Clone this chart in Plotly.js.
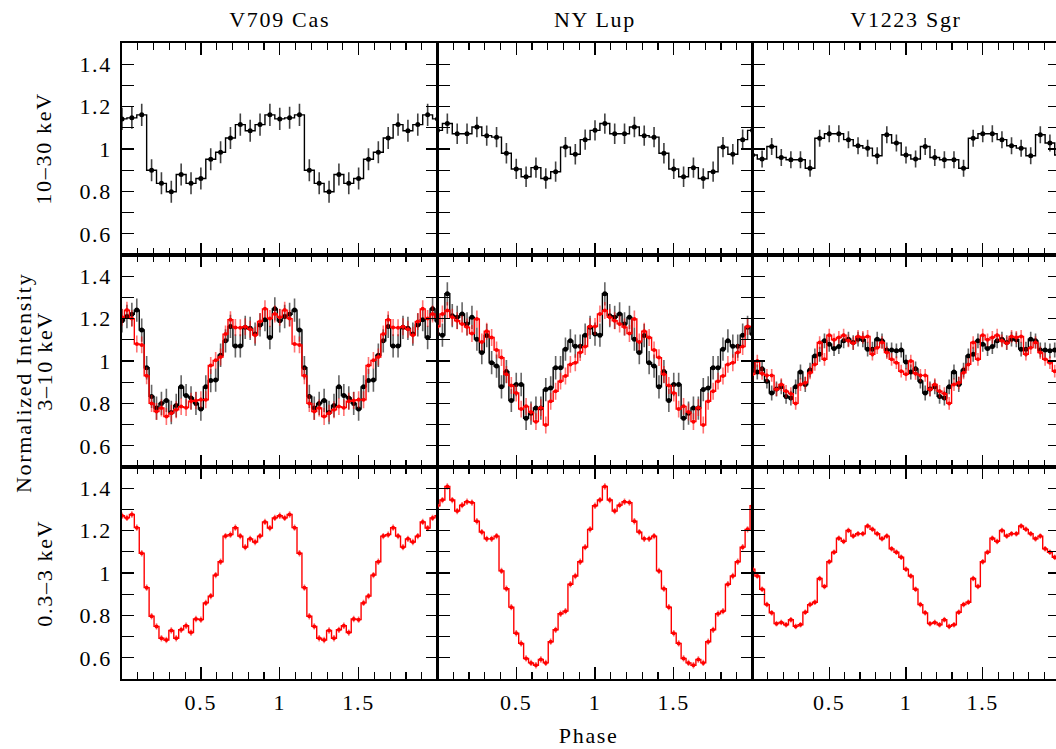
<!DOCTYPE html>
<html>
<head>
<meta charset="utf-8">
<script src="https://cdn.plot.ly/plotly-3.0.1.min.js"></script>
<style>
html,body{margin:0;padding:0;overflow:hidden;background:#fff;}
#plot{width:1064px;height:749px;}
#plot svg text{letter-spacing:1.7px;}
</style>
</head>
<body>
<div id="plot"></div>
<script>
// ---- Data: one phase cycle per series (bins centred at k/N); the light curves are folded twice (phase 0-2)
const columns = ["V709 Cas", "NY Lup", "V1223 Sgr"];
const bands = ["10–30 keV", "3–10 keV", "0.3–3 keV"];
const xTickLabels = ["", "0.5", "1", "1.5", ""];
const yTickLabels = ["", "0.6", "", "0.8", "", "1", "", "1.2", "", "1.4", ""];

// 10-30 keV (16 bins per cycle, black)
const v709Hard = [1.142, 1.147, 1.161, 0.900, 0.838, 0.798, 0.880, 0.838, 0.861, 0.952, 0.985, 1.052, 1.115, 1.086, 1.115, 1.161];
const nyLupHard = [1.088, 1.120, 1.072, 1.072, 1.104, 1.063, 1.056, 0.980, 0.906, 0.869, 0.912, 0.861, 0.893, 1.009, 0.975, 1.044];
const v1223Hard = [0.972, 0.953, 1.012, 0.960, 0.949, 0.949, 0.909, 1.051, 1.072, 1.072, 1.044, 1.015, 1.004, 0.968, 1.067, 1.028];
const hardErr = [0.052, 0.048, 0.040];

// 3-10 keV (32 bins per cycle): black and red instruments
const v709MidBlack = [1.190, 1.210, 1.220, 1.240, 1.146, 0.968, 0.833, 0.778, 0.800, 0.814, 0.757, 0.790, 0.878, 0.837, 0.826, 0.800,
                      0.773, 0.878, 0.908, 0.910, 1.027, 1.095, 1.163, 1.071, 1.071, 1.159, 1.154, 1.127, 1.170, 1.195, 1.111, 1.246];
const v709MidRed = [1.206, 1.240, 1.200, 1.080, 1.076, 0.930, 0.800, 0.762, 0.778, 0.738, 0.754, 0.770, 0.785, 0.780, 0.810, 0.814,
                    0.817, 0.817, 0.979, 1.003, 1.019, 1.127, 1.195, 1.158, 1.157, 1.162, 1.150, 1.122, 1.186, 1.246, 1.200, 1.222];
const nyLupMidBlack = [1.127, 1.122, 1.317, 1.214, 1.206, 1.222, 1.175, 1.206, 1.103, 1.040, 1.120, 0.992, 0.976, 0.878, 0.950, 0.814,
                       0.889, 0.889, 0.730, 0.754, 0.778, 0.778, 0.865, 0.873, 0.968, 0.968, 1.056, 1.095, 1.070, 1.070, 1.122, 1.159];
const nyLupMidRed = [1.163, 1.222, 1.238, 1.206, 1.190, 1.175, 1.160, 1.130, 1.198, 1.090, 1.140, 1.111, 1.052, 1.016, 0.937, 0.884,
                     0.849, 0.773, 0.786, 0.759, 0.714, 0.780, 0.698, 0.810, 0.857, 0.905, 0.929, 0.984, 0.992, 1.040, 1.068, 1.163];
const v1223MidBlack = [0.995, 0.948, 0.963, 0.905, 0.849, 0.868, 0.878, 0.833, 0.825, 0.878, 0.948, 0.889, 0.957, 1.024, 1.032, 1.095,
                       1.079, 1.059, 1.068, 1.095, 1.103, 1.087, 1.103, 1.100, 1.056, 1.056, 1.103, 1.095, 1.052, 1.052, 1.048, 1.052];
const v1223MidRed = [0.937, 1.000, 0.941, 0.932, 0.932, 0.865, 0.889, 0.857, 0.846, 0.800, 0.889, 0.897, 0.944, 0.984, 1.087, 1.008,
                     1.122, 1.100, 1.111, 1.122, 1.095, 1.084, 1.116, 1.111, 1.116, 1.032, 1.063, 1.087, 1.040, 1.008, 0.992, 0.952];
const midErrBlack = [0.055, 0.055, 0.035];
const midErrRed = [0.040, 0.040, 0.030];

// 0.3-3 keV (32 bins per cycle, red)
const v709Soft = [1.270, 1.260, 1.276, 1.214, 1.093, 0.931, 0.796, 0.748, 0.692, 0.684, 0.729, 0.692, 0.732, 0.751, 0.719, 0.783,
                  0.780, 0.859, 0.891, 0.990, 1.053, 1.174, 1.181, 1.214, 1.174, 1.122, 1.161, 1.146, 1.174, 1.241, 1.212, 1.260];
const nyLupSoft = [1.317, 1.344, 1.408, 1.344, 1.292, 1.320, 1.336, 1.332, 1.244, 1.193, 1.161, 1.161, 1.174, 1.010, 0.926, 0.839,
                   0.716, 0.668, 0.597, 0.576, 0.565, 0.592, 0.576, 0.676, 0.732, 0.808, 0.820, 0.947, 0.986, 1.053, 1.122, 1.206];
const v1223Soft = [1.018, 0.986, 0.923, 0.851, 0.812, 0.761, 0.767, 0.756, 0.780, 0.748, 0.756, 0.815, 0.851, 0.862, 0.974, 0.936,
                   1.053, 1.098, 1.164, 1.149, 1.201, 1.174, 1.185, 1.185, 1.222, 1.206, 1.185, 1.161, 1.174, 1.114, 1.098, 1.074];
const softErr = [0.015, 0.015, 0.013];

// ---- Layout geometry (pixels)
const W = 1064, H = 749;
const colPx = [[122, 437.5], [437.5, 752.5], [752.5, 1059.5]];
const rowPx = [[43, 255], [255, 467], [467, 679]];
const FONT = "'Liberation Serif', 'Times New Roman', Times, serif";
const FS = 22;

function fold(vals) {
  const n = vals.length, x = [], y = [];
  for (let k = 0; k <= 2 * n; k++) { x.push(k / n); y.push(vals[k % n]); }
  return {x, y};
}

const traces = [];
function addSeries(vals, idx, color, errColor, err, msize) {
  const d = fold(vals);
  traces.push({
    x: d.x, y: d.y, xaxis: 'x' + idx, yaxis: 'y' + idx,
    type: 'scatter', mode: 'lines+markers',
    line: {shape: 'hvh', color: color, width: 1.4},
    marker: {size: msize, color: color},
    error_y: {type: 'constant', value: err, width: 0, thickness: 1.6, color: errColor},
    showlegend: false, hoverinfo: 'skip'
  });
}

const hard = [v709Hard, nyLupHard, v1223Hard];
const midB = [v709MidBlack, nyLupMidBlack, v1223MidBlack];
const midR = [v709MidRed, nyLupMidRed, v1223MidRed];
const soft = [v709Soft, nyLupSoft, v1223Soft];

for (let c = 0; c < 3; c++) {
  addSeries(hard[c], 1 + c, '#000000', 'rgba(0,0,0,0.75)', hardErr[c], 5);
  addSeries(midB[c], 4 + c, '#000000', 'rgba(0,0,0,0.6)', midErrBlack[c], 5);
  addSeries(midR[c], 4 + c, '#ff0000', 'rgba(255,0,0,0.55)', midErrRed[c], 4);
  addSeries(soft[c], 7 + c, '#ff0000', 'rgba(255,0,0,0.55)', softErr[c], 4);
}

const layout = {
  width: W, height: H, margin: {l: 0, r: 0, t: 0, b: 0},
  paper_bgcolor: '#fff', plot_bgcolor: '#fff',
  font: {family: FONT, size: FS, color: '#000'},
  showlegend: false, annotations: []
};

const yVals = [];
for (let i = 0; i <= 10; i++) yVals.push(0.5 + i * 0.1);

for (let r = 0; r < 3; r++) {
  for (let c = 0; c < 3; c++) {
    const idx = r * 3 + c + 1;
    const xs = idx === 1 ? 'xaxis' : 'xaxis' + idx;
    const ys = idx === 1 ? 'yaxis' : 'yaxis' + idx;
    layout[xs] = {
      domain: [colPx[c][0] / W, colPx[c][1] / W], anchor: 'y' + idx,
      range: [0, 2], showgrid: false, zeroline: false,
      showline: true, linecolor: '#000', linewidth: 1.6, mirror: 'ticks',
      ticks: 'inside', ticklen: 12, tickwidth: 1.3, tickcolor: '#000',
      tickmode: 'array', tickvals: [0, 0.5, 1, 1.5, 2], ticktext: xTickLabels,
      showticklabels: r === 2, tickfont: {family: FONT, size: FS, color: '#000'},
      ticklabelstandoff: 3,
      minor: {tickmode: 'linear', tick0: 0, dtick: 0.1, ticks: 'inside', ticklen: 7, tickwidth: 1.1, tickcolor: '#000', showgrid: false},
      fixedrange: true
    };
    layout[ys] = {
      domain: [1 - rowPx[r][1] / H, 1 - rowPx[r][0] / H], anchor: 'x' + idx,
      range: [0.5, 1.5], showgrid: false, zeroline: false,
      showline: true, linecolor: '#000', linewidth: 1.6, mirror: 'ticks',
      ticks: 'inside', ticklen: 12, tickwidth: 1.3, tickcolor: '#000',
      tickmode: 'array', tickvals: yVals, ticktext: yTickLabels,
      showticklabels: c === 0, tickfont: {family: FONT, size: FS, color: '#000'},
      ticklabelstandoff: 4,
      fixedrange: true
    };
  }
}

// column titles
for (let c = 0; c < 3; c++) {
  layout.annotations.push({
    text: columns[c], xref: 'paper', yref: 'paper',
    x: (colPx[c][0] + colPx[c][1]) / 2 / W, y: 1 - 20 / H,
    xanchor: 'center', yanchor: 'middle', showarrow: false,
    font: {family: FONT, size: FS, color: '#000'}
  });
}
// band labels (rotated)
const bandY = [149, 361, 573];
for (let r = 0; r < 3; r++) {
  layout.annotations.push({
    text: bands[r], xref: 'paper', yref: 'paper',
    x: 44 / W, y: 1 - bandY[r] / H, textangle: -90,
    xanchor: 'center', yanchor: 'middle', showarrow: false,
    font: {family: FONT, size: FS, color: '#000'}
  });
}
layout.annotations.push({
  text: 'Normalized Intensity', xref: 'paper', yref: 'paper',
  x: 23 / W, y: 1 - 383 / H, textangle: -90,
  xanchor: 'center', yanchor: 'middle', showarrow: false,
  font: {family: FONT, size: FS, color: '#000'}
});
layout.annotations.push({
  text: 'Phase', xref: 'paper', yref: 'paper',
  x: 588 / W, y: 1 - 735 / H,
  xanchor: 'center', yanchor: 'middle', showarrow: false,
  font: {family: FONT, size: FS, color: '#000'}
});

Plotly.newPlot('plot', traces, layout, {staticPlot: true, displayModeBar: false});
</script>
</body>
</html>
